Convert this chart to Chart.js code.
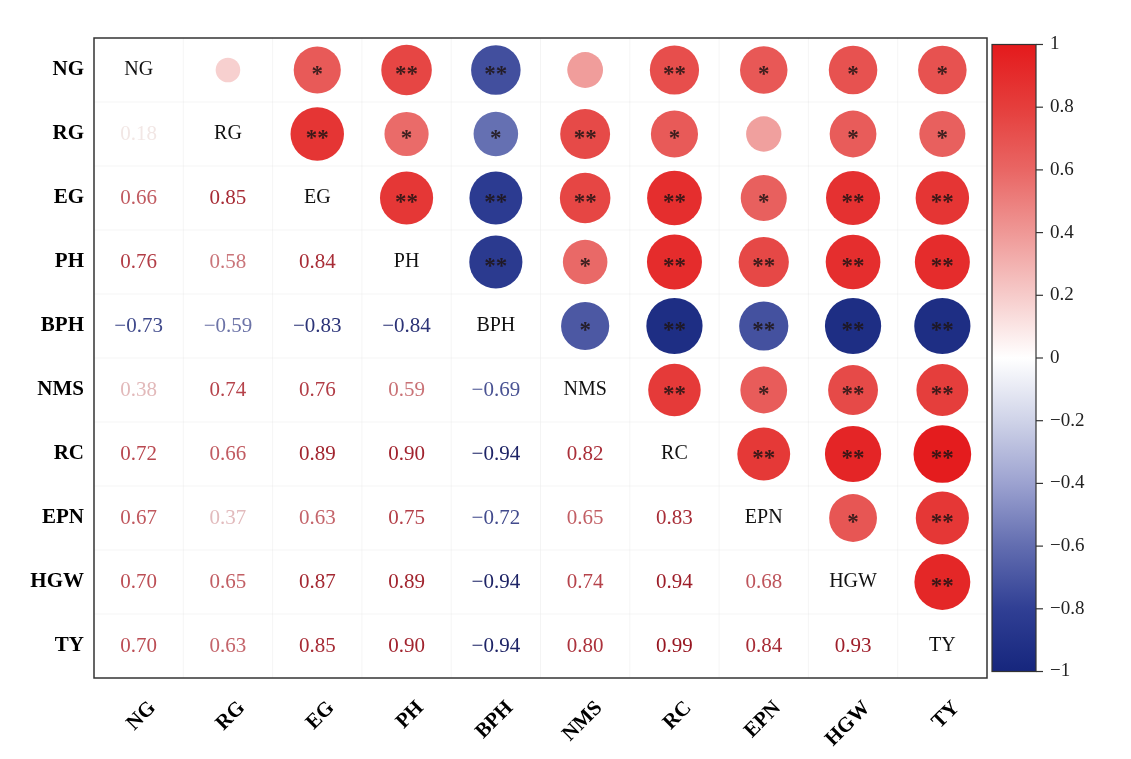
<!DOCTYPE html>
<html>
<head>
<meta charset="utf-8">
<script src="https://cdn.jsdelivr.net/npm/chart.js@4.4.1/dist/chart.umd.min.js"></script>
<style>
  html, body { margin: 0; padding: 0; background: #fff; }
  #wrap { width: 1131px; height: 759px; }
</style>
</head>
<body>
<div id="wrap"><canvas id="corrChart"></canvas></div>
<script>
// trait names (rows top to bottom, columns left to right)
const traits = ["NG", "RG", "EG", "PH", "BPH", "NMS", "RC", "EPN", "HGW", "TY"];

// lower triangle correlation values, row i holds columns 0..i-1
const lowerValues = [
  [],
  [0.18],
  [0.66, 0.85],
  [0.76, 0.58, 0.84],
  [-0.73, -0.59, -0.83, -0.84],
  [0.38, 0.74, 0.76, 0.59, -0.69],
  [0.72, 0.66, 0.89, 0.90, -0.94, 0.82],
  [0.67, 0.37, 0.63, 0.75, -0.72, 0.65, 0.83],
  [0.70, 0.65, 0.87, 0.89, -0.94, 0.74, 0.94, 0.68],
  [0.70, 0.63, 0.85, 0.90, -0.94, 0.80, 0.99, 0.84, 0.93],
];

// significance marks in the upper triangle, row i holds columns i+1..9
const upperStars = [
  ["", "*", "**", "**", "", "**", "*", "*", "*"],
  ["**", "*", "*", "**", "*", "", "*", "*"],
  ["**", "**", "**", "**", "*", "**", "**"],
  ["**", "*", "**", "**", "**", "**"],
  ["*", "**", "**", "**", "**"],
  ["**", "*", "**", "**"],
  ["**", "**", "**"],
  ["*", "**"],
  ["**"],
];

const colorbarTicks = [1, 0.8, 0.6, 0.4, 0.2, 0, -0.2, -0.4, -0.6, -0.8, -1];

// colour ramps
const fillStops = [
  [-1, [22, 38, 125]], [-0.8, [48, 63, 148]], [-0.6, [98, 109, 176]],
  [-0.4, [156, 162, 208]], [-0.2, [207, 211, 232]], [0, [255, 255, 255]],
  [0.2, [246, 203, 202]], [0.4, [239, 152, 150]], [0.6, [233, 102, 100]],
  [0.8, [229, 62, 60]], [1, [228, 26, 28]],
];
const textStops = [
  [-1, [22, 28, 92]], [-0.8, [48, 56, 125]], [-0.7, [70, 80, 145]],
  [-0.6, [105, 112, 165]], [-0.4, [170, 175, 210]], [-0.2, [226, 228, 240]],
  [0, [255, 255, 255]], [0.2, [240, 228, 226]], [0.4, [224, 180, 182]],
  [0.6, [200, 110, 115]], [0.7, [188, 78, 85]], [0.8, [172, 50, 60]],
  [1, [150, 20, 32]],
];

function rampColor(stops, v) {
  for (let k = 1; k < stops.length; k++) {
    if (v <= stops[k][0]) {
      const [v0, c0] = stops[k - 1];
      const [v1, c1] = stops[k];
      const t = (v - v0) / (v1 - v0);
      const c = c0.map((a, n) => Math.round(a + (c1[n] - a) * t));
      return `rgb(${c[0]}, ${c[1]}, ${c[2]})`;
    }
  }
  const c = stops[stops.length - 1][1];
  return `rgb(${c[0]}, ${c[1]}, ${c[2]})`;
}

const fmt = (v) => (v === 0 ? "0" : Math.abs(v) === 1 ? String(v) : v.toFixed(1)).replace("-", "\u2212");

// bubbles for the upper triangle, mirrored from the lower values
const bubbles = [];
traits.forEach((_, i) => {
  for (let j = i + 1; j < traits.length; j++) {
    const v = lowerValues[j][i];
    bubbles.push({ x: j, y: i, r: 29 * Math.sqrt(Math.abs(v)), v: v, stars: upperStars[i][j - i - 1] });
  }
});

const SERIF = "'Liberation Serif', 'DejaVu Serif', serif";

const matrixPlugin = {
  id: "matrixText",
  beforeDatasetsDraw(chart) {
    const { ctx, chartArea: a, scales } = chart;
    const xs = scales.x, ys = scales.y, cb = scales.cb;
    ctx.save();
    // faint cell borders
    ctx.strokeStyle = "rgba(0,0,0,0.045)";
    ctx.lineWidth = 1;
    for (let k = 0; k < traits.length - 1; k++) {
      const px = xs.getPixelForValue(k + 0.5);
      const py = ys.getPixelForValue(k + 0.5);
      ctx.beginPath(); ctx.moveTo(px, a.top); ctx.lineTo(px, a.bottom); ctx.stroke();
      ctx.beginPath(); ctx.moveTo(a.left, py); ctx.lineTo(a.right, py); ctx.stroke();
    }
    // colour bar
    const top = cb.getPixelForValue(1), bot = cb.getPixelForValue(-1);
    const left = cb.left + 5, w = 44;
    const g = ctx.createLinearGradient(0, top, 0, bot);
    fillStops.forEach(([v, c]) => g.addColorStop((1 - v) / 2, `rgb(${c[0]}, ${c[1]}, ${c[2]})`));
    ctx.fillStyle = g;
    ctx.fillRect(left, top, w, bot - top);
    ctx.strokeStyle = "#333";
    ctx.lineWidth = 1.2;
    ctx.strokeRect(left, top, w, bot - top);
    colorbarTicks.forEach((v) => {
      const py = cb.getPixelForValue(v);
      ctx.beginPath(); ctx.moveTo(left + w, py); ctx.lineTo(left + w + 7, py); ctx.stroke();
    });
    ctx.restore();
  },
  afterDatasetsDraw(chart) {
    const { ctx, chartArea: a, scales } = chart;
    const xs = scales.x, ys = scales.y;
    ctx.save();
    ctx.textAlign = "center";
    ctx.textBaseline = "middle";
    // lower triangle numbers
    ctx.font = `21px ${SERIF}`;
    lowerValues.forEach((row, i) => {
      row.forEach((v, j) => {
        ctx.fillStyle = rampColor(textStops, v);
        ctx.fillText(v.toFixed(2).replace("-", "\u2212"), xs.getPixelForValue(j), ys.getPixelForValue(i));
      });
    });
    // diagonal names
    ctx.fillStyle = "#111";
    ctx.font = `20px ${SERIF}`;
    traits.forEach((t, i) => ctx.fillText(t, xs.getPixelForValue(i), ys.getPixelForValue(i)));
    // stars
    ctx.font = `bold 23px ${SERIF}`;
    ctx.fillStyle = "rgba(30,20,20,0.85)";
    bubbles.forEach((b) => {
      if (b.stars) ctx.fillText(b.stars, xs.getPixelForValue(b.x), ys.getPixelForValue(b.y) + 5);
    });
    // frame
    ctx.strokeStyle = "#333";
    ctx.lineWidth = 1.5;
    ctx.strokeRect(a.left, a.top, a.right - a.left, a.bottom - a.top);
    ctx.restore();
  },
};

const nameTicks = (scale) => { scale.ticks = traits.map((_, i) => ({ value: i })); };

new Chart(document.getElementById("corrChart"), {
  type: "bubble",
  data: {
    datasets: [{
      data: bubbles,
      backgroundColor: (c) => rampColor(fillStops, c.raw ? c.raw.v : 0),
      borderWidth: 0,
      hoverRadius: 0,
    }],
  },
  options: {
    responsive: true,
    maintainAspectRatio: false,
    animation: false,
    events: [],
    layout: { autoPadding: false, padding: { top: 38, left: 0, right: 0, bottom: 0 } },
    plugins: { legend: { display: false }, tooltip: { enabled: false } },
    scales: {
      x: {
        type: "linear", position: "bottom", min: -0.5, max: 9.5,
        afterBuildTicks: nameTicks,
        afterFit: (s) => { s.height = 81; },
        grid: { display: false, drawTicks: false }, border: { display: false },
        ticks: {
          autoSkip: false, minRotation: 45, maxRotation: 45, labelOffset: 14, padding: 18,
          color: "#000", font: { family: SERIF, size: 21, weight: "bold" },
          callback: (v) => traits[v],
        },
      },
      y: {
        type: "linear", position: "left", min: -0.5, max: 9.5, reverse: true,
        afterBuildTicks: nameTicks,
        afterFit: (s) => { s.width = 94; },
        grid: { display: false, drawTicks: false }, border: { display: false },
        ticks: {
          autoSkip: false, padding: 10,
          color: "#000", font: { family: SERIF, size: 21, weight: "bold" },
          callback: (v) => traits[v],
        },
      },
      cb: {
        type: "linear", position: "right", min: -1.0207, max: 1.0207,
        afterBuildTicks: (s) => { s.ticks = colorbarTicks.map((v) => ({ value: v })); },
        afterFit: (s) => { s.width = 144; },
        grid: { drawOnChartArea: false, drawTicks: true, tickLength: 59, tickColor: "rgba(0,0,0,0)" },
        border: { display: false },
        ticks: {
          autoSkip: false, padding: 4, color: "#222",
          font: { family: SERIF, size: 19 },
          callback: (v) => fmt(v),
        },
      },
    },
  },
  plugins: [matrixPlugin],
});
</script>
</body>
</html>
